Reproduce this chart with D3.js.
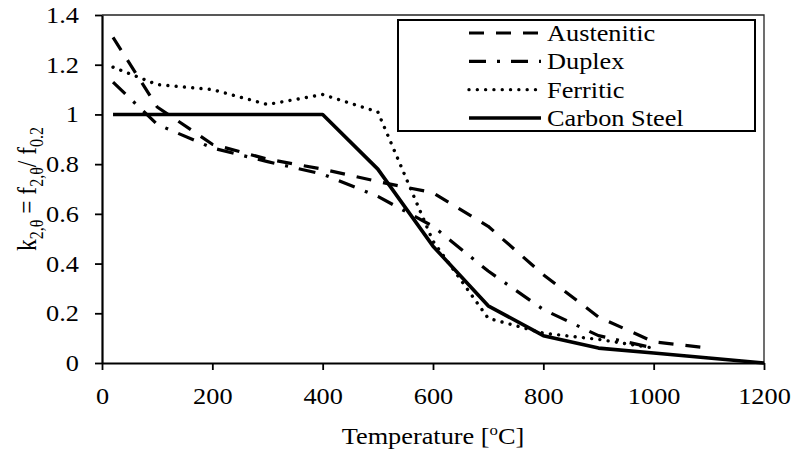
<!DOCTYPE html>
<html>
<head>
<meta charset="utf-8">
<script src="https://cdn.jsdelivr.net/npm/d3@7"></script>
<style>
  body { margin: 0; background: #fff; }
  svg { display: block; }
  svg text { font-family: "Times New Roman", "Liberation Serif", Tinos, Times, serif !important; fill: #000; }
</style>
</head>
<body>
<svg id="chart" width="795" height="454"></svg>
<script>
// Reduction factor k2,θ versus temperature for four steel families
const temperatures = [20, 100, 200, 300, 400, 500, 600, 700, 800, 900, 1000, 1100, 1200];
const austenitic   = [1.31, 1.03, 0.88, 0.82, 0.78, 0.73, 0.685, 0.55, 0.355, 0.185, 0.085, 0.06, null];
const duplex       = [1.13, 0.96, 0.865, 0.81, 0.76, 0.67, 0.55, 0.37, 0.215, 0.11, 0.06, null, null];
const ferritic     = [1.19, 1.12, 1.10, 1.04, 1.08, 1.01, 0.49, 0.18, 0.12, 0.095, 0.06, null, null];
const carbonSteel  = [1.0, 1.0, 1.0, 1.0, 1.0, 0.78, 0.47, 0.23, 0.11, 0.06, 0.04, 0.02, 0.0];

const seriesNames = ["Austenitic", "Duplex", "Ferritic", "Carbon Steel"];
const xTicks = [0, 200, 400, 600, 800, 1000, 1200];
const yTicks = [0, 0.2, 0.4, 0.6, 0.8, 1, 1.2, 1.4];
const yTickLabels = ["0", "0.2", "0.4", "0.6", "0.8", "1", "1.2", "1.4"];

const serif = "'Times New Roman', 'Liberation Serif', Tinos, Times, serif";
const fontSize = 23.5;
const stretch = 1.12;          // text is set slightly wide
const svg = d3.select("#chart");
const plot = { left: 102, right: 764, top: 15, bottom: 363 };

const x = d3.scaleLinear().domain([0, 1200]).range([plot.left, plot.right]);
const y = d3.scaleLinear().domain([0, 1.4]).range([plot.bottom, plot.top]);

// thin frame on the top and right of the plot area
svg.append("path")
  .attr("d", `M${plot.left},${plot.top}H${plot.right}V${plot.bottom}`)
  .attr("fill", "none").attr("stroke", "#222").attr("stroke-width", 1.3);

// axes
const xAxis = svg.append("g")
  .attr("transform", `translate(0,${plot.bottom})`)
  .call(d3.axisBottom(x).tickValues(xTicks).tickSize(7).tickSizeOuter(0).tickPadding(17)
        .tickFormat(d3.format("d")));
const yAxis = svg.append("g")
  .attr("transform", `translate(${plot.left},0)`)
  .call(d3.axisLeft(y).tickValues(yTicks).tickSize(7).tickSizeOuter(0).tickPadding(16)
        .tickFormat((d, i) => yTickLabels[i]));

[xAxis, yAxis].forEach(g => {
  g.attr("font-family", serif).attr("font-size", fontSize);
  g.select(".domain").attr("stroke", "#000").attr("stroke-width", 2.2);
  g.selectAll(".tick line").attr("stroke", "#000").attr("stroke-width", 1.8);
  g.selectAll(".tick text").attr("fill", "#000");
});
xAxis.selectAll(".tick text")
  .attr("dy", "0.71em")
  .attr("y", 24 / 1)
  .attr("transform", `scale(${stretch},1)`);
yAxis.selectAll(".tick text")
  .attr("x", -23 / stretch)
  .attr("transform", `scale(${stretch},1)`);

// line styles for each series
const styles = [
  { values: austenitic,  dash: "15,12",       width: 3.2, cap: "butt" },
  { values: duplex,      dash: "17,11,3,11",  width: 3.2, cap: "butt" },
  { values: ferritic,    dash: "0.01,8.3",    width: 3.4, cap: "round" },
  { values: carbonSteel, dash: null,          width: 3.6, cap: "butt" }
];

const line = d3.line()
  .defined(d => d[1] != null)
  .x(d => x(d[0]))
  .y(d => y(d[1]));

styles.forEach(s => {
  const pts = temperatures.map((t, i) => [t, s.values[i]]);
  svg.append("path")
    .datum(pts)
    .attr("d", line)
    .attr("fill", "none")
    .attr("stroke", "#000")
    .attr("stroke-width", s.width)
    .attr("stroke-linecap", s.cap)
    .attr("stroke-linejoin", "round")
    .attr("stroke-dasharray", s.dash);
});

// legend
const legend = svg.append("g").attr("font-family", serif);
legend.append("rect")
  .attr("x", 398).attr("y", 20).attr("width", 357).attr("height", 111)
  .attr("fill", "#fff").attr("stroke", "#000").attr("stroke-width", 2);

const rowY = d3.scalePoint().domain(seriesNames).range([33, 118]);
seriesNames.forEach((name, i) => {
  const s = styles[i];
  const ry = rowY(name);
  legend.append("line")
    .attr("x1", 469).attr("x2", 541).attr("y1", ry).attr("y2", ry)
    .attr("stroke", "#000").attr("stroke-width", s.width)
    .attr("stroke-linecap", s.cap)
    .attr("stroke-dasharray", s.dash);
  legend.append("text")
    .attr("transform", `translate(547,${ry}) scale(${stretch},1)`)
    .attr("dy", "0.34em")
    .attr("font-size", fontSize)
    .text(name);
});

// axis titles
const xTitle = svg.append("text")
  .attr("transform", `translate(${(plot.left + plot.right) / 2},444) scale(${stretch},1)`)
  .attr("text-anchor", "middle").attr("font-size", fontSize).attr("font-family", serif);
xTitle.append("tspan").text("Temperature [");
xTitle.append("tspan").attr("font-size", 15).attr("dy", -9).text("o");
xTitle.append("tspan").attr("dy", 9).text("C]");

const yTitle = svg.append("text")
  .attr("transform", `translate(36,${(plot.top + plot.bottom) / 2}) rotate(-90) scale(1,1.15)`)
  .attr("text-anchor", "middle").attr("font-size", fontSize).attr("font-family", serif);
yTitle.append("tspan").text("k");
yTitle.append("tspan").attr("font-size", 16).attr("dy", 6).text("2,θ");
yTitle.append("tspan").attr("dy", -6).text(" = f");
yTitle.append("tspan").attr("font-size", 16).attr("dy", 6).text("2,θ");
yTitle.append("tspan").attr("dy", -6).text("/ f");
yTitle.append("tspan").attr("font-size", 16).attr("dy", 6).text("0.2");
</script>
</body>
</html>
